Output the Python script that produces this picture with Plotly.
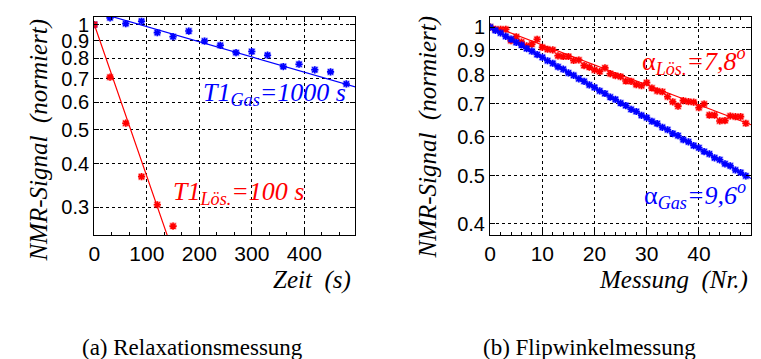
import numpy as np
import plotly.graph_objects as go

# ---------------- data ----------------
# (a) relaxation measurement: time in s, normalised NMR signal
t_gas = [0, 30, 60, 90, 120, 150, 180, 210, 240, 270, 300, 330, 360, 390, 420, 450, 480]
s_gas = [1.0, 1.045, 1.006, 1.022, 0.948, 0.923, 0.958, 0.897, 0.872, 0.831, 0.837,
         0.817, 0.758, 0.770, 0.742, 0.732, 0.676]
t_loes = [0, 30, 60, 90, 120, 150]
s_loes = [1.0, 0.707, 0.522, 0.367, 0.305, 0.265]
T1_gas = 1000.0   # s
A_gas = 1.09
T1_loes = 100.0   # s
A_loes = 1.0

# (b) flip-angle measurement: measurement number, normalised NMR signal
n_meas = list(range(50))
f_loes = [1.000, 0.990, 0.990, 0.990, 0.939, 0.956, 0.933, 0.916, 0.924, 0.945,
          0.910, 0.902, 0.899, 0.875, 0.872, 0.872, 0.856, 0.858, 0.836, 0.830,
          0.819, 0.813, 0.827, 0.805, 0.798, 0.794, 0.778, 0.777, 0.765, 0.761,
          0.772, 0.753, 0.743, 0.740, 0.723, 0.706, 0.692, 0.710, 0.707, 0.705,
          0.687, 0.699, 0.664, 0.664, 0.646, 0.647, 0.661, 0.659, 0.659, 0.639]
f_gas = [1.000, 0.985, 0.973, 0.958, 0.946, 0.931, 0.920, 0.905, 0.894, 0.880,
         0.869, 0.855, 0.845, 0.831, 0.822, 0.808, 0.799, 0.786, 0.777, 0.764,
         0.755, 0.743, 0.734, 0.722, 0.714, 0.702, 0.694, 0.682, 0.675, 0.663,
         0.656, 0.645, 0.638, 0.627, 0.620, 0.609, 0.603, 0.592, 0.586, 0.576,
         0.570, 0.560, 0.554, 0.544, 0.539, 0.529, 0.524, 0.514, 0.508, 0.500]
alpha_loes = 7.8  # degrees
B_loes = 1.01
alpha_gas = 9.6   # degrees
B_gas = 1.0

yticks_a = [0.3, 0.4, 0.5, 0.6, 0.7, 0.8, 0.9, 1.0]
yticks_b = [0.4, 0.5, 0.6, 0.7, 0.8, 0.9, 1.0]
ytext_a = ["0.3", "0.4", "0.5", "0.6", "0.7", "0.8", "0.9", "1"]
ytext_b = ["0.4", "0.5", "0.6", "0.7", "0.8", "0.9", "1"]
xticks_a = [0, 100, 200, 300, 400]
xticks_b = [0, 10, 20, 30, 40, 50]

# ---------------- styling ----------------
W, H = 761, 359
RED = "#ff0000"
BLUE = "#0000ff"
SERIF = "'Liberation Serif', 'Times New Roman', Times, serif"
SANS = "'Liberation Sans', Arial, Helvetica, sans-serif"


def px(x):
    return x / W


def py(y):
    return 1 - y / H


fig = go.Figure()

# fitted curves
tt = np.linspace(0, 500, 400)
fig.add_trace(go.Scatter(x=tt, y=A_gas * np.exp(-tt / T1_gas), mode="lines",
                         line=dict(color=BLUE, width=1.2), xaxis="x", yaxis="y"))
fig.add_trace(go.Scatter(x=tt, y=A_loes * np.exp(-tt / T1_loes), mode="lines",
                         line=dict(color=RED, width=1.2), xaxis="x", yaxis="y"))
nn = np.linspace(0, 50, 200)
fig.add_trace(go.Scatter(x=nn, y=B_loes * np.cos(np.radians(alpha_loes)) ** nn, mode="lines",
                         line=dict(color=RED, width=1.2), xaxis="x2", yaxis="y2"))
fig.add_trace(go.Scatter(x=nn, y=B_gas * np.cos(np.radians(alpha_gas)) ** nn, mode="lines",
                         line=dict(color=BLUE, width=1.2), xaxis="x2", yaxis="y2"))


# measured points: a faint square halo with an asterisk on top
def pts(x, y, color, xa, ya):
    fig.add_trace(go.Scatter(x=x, y=y, mode="markers", xaxis=xa, yaxis=ya,
                             marker=dict(symbol="square", size=7, color=color, opacity=0.3,
                                         line=dict(width=0))))
    fig.add_trace(go.Scatter(x=x, y=y, mode="markers", xaxis=xa, yaxis=ya,
                             marker=dict(symbol="asterisk-open", size=6, color=color,
                                         line=dict(color=color, width=1.6))))


pts(t_gas, s_gas, BLUE, "x", "y")
pts(t_loes, s_loes, RED, "x", "y")
pts(n_meas, f_loes, RED, "x2", "y2")
pts(n_meas, f_gas, BLUE, "x2", "y2")

axis_common = dict(showline=True, linecolor="black", linewidth=1.3, mirror="allticks",
                   ticks="inside", ticklen=5, tickcolor="black", tickwidth=1,
                   showgrid=True, gridcolor="black", gridwidth=1, griddash="3px,3px",
                   zeroline=False)
xfont = dict(family=SANS, size=21, color="black")
yfont = dict(family=SANS, size=20, color="black")

ytop, ybot = 14, 234
fig.update_layout(
    width=W, height=H, margin=dict(l=0, r=0, t=0, b=0),
    paper_bgcolor="white", plot_bgcolor="white", showlegend=False,
    xaxis=dict(domain=[px(89), px(352)], range=[0, 497], anchor="y",
               tickvals=xticks_a, ticktext=[str(v) for v in xticks_a], tickfont=xfont,
               minor=dict(dtick=100 / 3, tick0=0, ticks="inside", ticklen=3,
                          tickcolor="black", showgrid=False),
               **axis_common),
    yaxis=dict(domain=[py(ybot), py(ytop)], type="log", range=[-0.6024, 0.0219], anchor="x",
               tickvals=yticks_a, ticktext=ytext_a, tickfont=yfont, **axis_common),
    xaxis2=dict(domain=[px(488), px(751)], range=[0, 50], anchor="y2",
                tickvals=xticks_b, ticktext=[str(v) for v in xticks_b], tickfont=xfont,
                minor=dict(dtick=2, tick0=0, ticks="inside", ticklen=3,
                           tickcolor="black", showgrid=False),
                **axis_common),
    yaxis2=dict(domain=[py(ybot), py(ytop)], type="log", range=[-0.4206, 0.0207], anchor="x2",
                tickvals=yticks_b, ticktext=ytext_b, tickfont=yfont, **axis_common),
)

NB = "\u00a0"
ann = []
# axis titles
ann.append(dict(text=f"<i>NMR-Signal{NB}{NB}(normiert)</i>", x=px(33), y=py(138), textangle=-90,
                font=dict(family=SERIF, size=25, color="black")))
ann.append(dict(text=f"<i>NMR-Signal{NB}{NB}(normiert)</i>", x=px(425), y=py(135), textangle=-90,
                font=dict(family=SERIF, size=25, color="black")))
ann.append(dict(text=f"<i>Zeit{NB}{NB}(s)</i>", x=px(350), y=py(279), xanchor="right",
                font=dict(family=SERIF, size=25, color="black")))
ann.append(dict(text=f"<i>Messung{NB}{NB}(Nr.)</i>", x=px(750), y=py(279), xanchor="right",
                font=dict(family=SERIF, size=25, color="black")))
# fit results
ann.append(dict(text="<i>T1<sub>Gas</sub>=1000 s</i>", x=px(345), y=py(92), xanchor="right",
                font=dict(family=SERIF, size=26, color=BLUE)))
ann.append(dict(text="<i>T1<sub>Lös.</sub>=100 s</i>", x=px(166), y=py(192), xanchor="left",
                font=dict(family=SERIF, size=26, color=RED)))
ann.append(dict(text="α<i><sub>Lös.</sub>=7,8<sup>o</sup></i>", x=px(748), y=py(58), xanchor="right",
                font=dict(family=SERIF, size=26, color=RED)))
ann.append(dict(text="α<i><sub>Gas</sub>=9,6<sup>o</sup></i>", x=px(748), y=py(194), xanchor="right",
                font=dict(family=SERIF, size=26, color=BLUE)))
# sub-figure captions
ann.append(dict(text="(a) Relaxationsmessung", x=px(188), y=py(347),
                font=dict(family=SERIF, size=23, color="black")))
ann.append(dict(text="(b) Flipwinkelmessung", x=px(588), y=py(347),
                font=dict(family=SERIF, size=23, color="black")))

for a in ann:
    a.setdefault("xref", "paper")
    a.setdefault("yref", "paper")
    a.setdefault("showarrow", False)
    a.setdefault("xanchor", "center")
    a.setdefault("yanchor", "middle")
fig.update_layout(annotations=ann)

fig.write_html("out.html")
